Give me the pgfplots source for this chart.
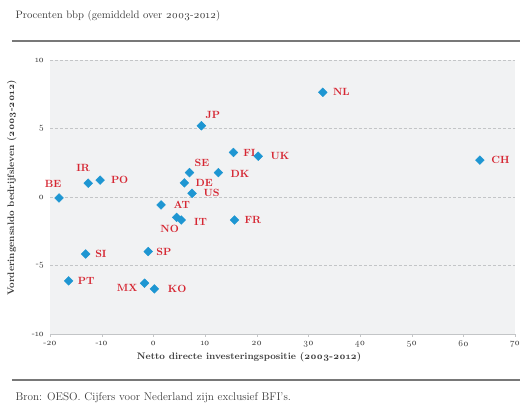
\documentclass[border=0pt]{standalone}
\usepackage{fontspec}
\setmainfont{Latin Modern Roman}[Numbers=OldStyle]
\usepackage{pgfplots}
\pgfplotsset{compat=1.18}

\definecolor{bggray}{RGB}{241,242,243}
\definecolor{gridgray}{RGB}{195,197,199}
\definecolor{mblue}{RGB}{30,150,210}
\definecolor{lred}{RGB}{214,38,50}
\definecolor{rulegray}{RGB}{120,120,120}
\definecolor{txtgray}{RGB}{60,60,60}

\begin{document}
\begin{tikzpicture}
\path[use as bounding box] (-50bp,-75bp) rectangle (470bp,334bp);
\begin{axis}[
    scale only axis,
    width=465bp, height=274bp,
    xmin=-20, xmax=70, ymin=-10, ymax=10,
    xtick={-20,-10,...,70}, ytick={-10,-5,0,5,10},
    axis background/.style={fill=bggray},
    axis x line*=bottom, axis y line*=left,
    separate axis lines,
    x axis line style={draw=gridgray, line width=0.9pt, -},
    y axis line style={draw=none},
    ymajorgrids,
    grid style={gridgray, line width=0.7pt, dash pattern=on 3pt off 2pt},
    tick align=outside,
    major tick length=2.5bp,
    xtick style={draw=gridgray},
    ytick style={draw=none},
    /pgf/number format/assume math mode=true,
    tick label style={font=\fontsize{9}{10}\selectfont, text=txtgray},
    xticklabel style={yshift=-1bp},
    xlabel={Netto directe investeringspositie (2003-2012)},
    ylabel={Vorderingensaldo bedrijfsleven (2003-2012)},
    every axis x label/.style={at={(axis description cs:0.428,0)}, anchor=center, yshift=-23bp,
        font=\bfseries\fontsize{9.5}{11}\selectfont, text=txtgray},
    every axis y label/.style={at={(axis description cs:-0.082,0.533)}, anchor=center, rotate=90,
        font=\bfseries\fontsize{9.5}{11}\selectfont, text=txtgray},
    clip=false,
]
\addplot[
    only marks, mark=square*, mark size=3.1bp,
    mark options={rotate=45, fill=mblue, draw=mblue},
    point meta=explicit symbolic,
    visualization depends on={value \thisrow{anc}\as\lanc},
    visualization depends on={\thisrow{dx}\as\ldx},
    visualization depends on={\thisrow{dy}\as\ldy},
    nodes near coords,
    every node near coord/.style={anchor=\lanc, xshift=\ldx bp, yshift=\ldy bp, inner sep=0pt,
        text=lred, font=\bfseries\fontsize{10.5}{12}\selectfont},
] table[meta=name] {
x      y      name anc    dx     dy
32.8   7.64   NL   west   10     0
9.3    5.2    JP   west   4      10.7
15.5   3.25   FI   west   9.7    0
20.3   2.98   UK   west   12.3   0
63.2   2.69   CH   west   11.4   0
12.6   1.78   DK   west   12     -1.7
7.0    1.78   SE   west   5      9.6
6.0    1.03   DE   west   11     0
7.5    0.27   US   west   11.3   0
-18.25 -0.07  BE   center -6     13.7
-12.6  1.01   IR   center -5     14.7
-10.3  1.23   PO   west   10.7   0
1.5    -0.58  AT   west   12.3   0
4.5    -1.49  NO   center -7     -11
5.4    -1.68  IT   west   12.6   -1.4
15.7   -1.68  FR   west   10     0
-13.1  -4.16  SI   west   9.4    0
-1.0   -3.98  SP   west   8      0
-16.4  -6.12  PT   west   9      0
-1.7   -6.29  MX   east   -7     -5
0.2    -6.71  KO   west   13.3   0
};
\end{axis}
\node[anchor=west, font=\fontsize{10.75}{12}\selectfont, text=txtgray] at (-38bp,318bp)
    {Procenten bbp (gemiddeld over 2003-2012)};
\draw[rulegray, line width=1.3bp] (-38bp,293bp) -- (470bp,293bp);
\draw[rulegray, line width=1.3bp] (-38bp,-46bp) -- (470bp,-46bp);
\node[anchor=west, font=\fontsize{11.25}{13}\selectfont, text=txtgray] at (-38bp,-64bp)
    {Bron: OESO. Cijfers voor Nederland zijn exclusief BFI's.};
\end{tikzpicture}
\end{document}
